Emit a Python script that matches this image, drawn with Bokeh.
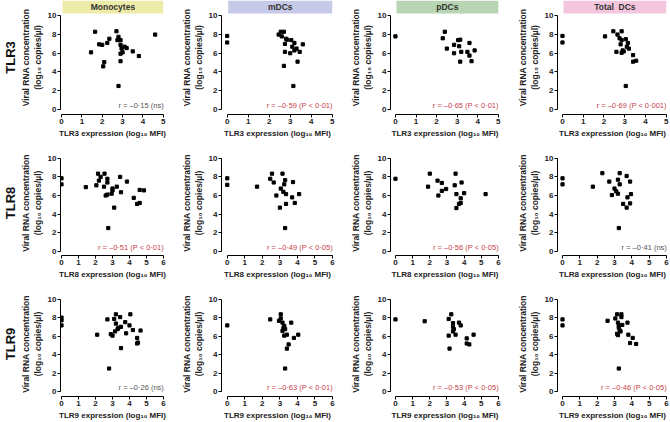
from bokeh.plotting import figure
from bokeh.layouts import column, row
from bokeh.models import FixedTicker, Title, Range1d
from bokeh.core.properties import value
from bokeh.embed import file_html
from bokeh.resources import INLINE

# ---------------- data ----------------
cell_types = ["Monocytes", "mDCs", "pDCs", "Total\u00a0 DCs"]
header_colors = ["#eeeaa8", "#c6c9e7", "#b7d5b2", "#f3c6de"]
receptors = ["TLR3", "TLR8", "TLR9"]
x_max = [5, 6, 6]

tlr3_mono_x = [1.65, 2.7, 4.6, 2.8, 2.35, 2.75, 2.9, 1.85, 2.0, 2.25, 2.9, 3.1, 3.2, 2.95, 3.5, 1.45, 3.0, 2.9, 3.8, 2.9, 2.1, 2.05, 2.8]
tlr3_mono_y = [8.3, 8.35, 8.0, 7.75, 7.55, 7.4, 7.4, 6.95, 6.9, 7.1, 6.9, 6.7, 6.55, 6.5, 6.2, 6.1, 6.1, 5.95, 5.7, 5.15, 5.05, 4.6, 2.5]
tlr3_mdc_x = [0, 0, 2.45, 2.55, 2.7, 2.6, 2.8, 2.85, 3.05, 2.75, 3.2, 3.6, 3.1, 3.3, 3.2, 2.75, 3.0, 3.45, 3.35, 2.7, 3.15]
tlr3_mdc_y = [7.85, 7.15, 8.0, 8.3, 8.3, 7.8, 7.55, 7.45, 7.4, 7.0, 7.1, 6.95, 6.7, 6.5, 6.3, 6.15, 6.0, 6.15, 5.1, 4.65, 2.5]
tlr3_pdc_x = [0, 2.4, 2.3, 2.5, 2.85, 2.85, 3.05, 3.15, 3.1, 3.2, 3.15, 3.5, 3.6, 3.6, 3.7, 3.85]
tlr3_pdc_y = [7.8, 8.3, 7.6, 6.5, 6.9, 6.0, 7.4, 7.45, 6.75, 6.15, 5.1, 6.15, 7.1, 5.75, 5.15, 6.3]
tlr3_tdc_x = [0, 0, 2.05, 2.45, 2.85, 2.65, 2.75, 2.85, 3.05, 3.15, 2.8, 3.1, 3.2, 2.9, 2.95, 2.85, 2.6, 3.4, 3.4, 3.55, 3.05]
tlr3_tdc_y = [7.85, 7.15, 7.8, 8.35, 8.35, 8.0, 7.6, 7.4, 7.5, 7.1, 6.95, 6.7, 6.5, 6.3, 6.2, 6.05, 6.15, 5.8, 5.1, 5.2, 2.5]

tlr8_mono_x = [0, 0, 1.43, 2.15, 2.53, 2.3, 2.2, 2.05, 2.7, 2.7, 2.5, 3.45, 3.85, 3.25, 3.0, 3.0, 2.7, 2.6, 2.95, 3.5, 3.1, 2.75, 4.25, 4.6, 4.85, 4.45, 4.6]
tlr8_mono_y = [7.85, 7.2, 6.9, 8.35, 8.35, 8.0, 7.6, 7.1, 7.8, 7.4, 6.95, 8.0, 7.5, 6.95, 6.75, 6.55, 6.1, 6.0, 6.2, 6.35, 4.7, 2.5, 5.75, 6.6, 6.55, 5.1, 5.2]
tlr8_mdc_x = [0, 0, 1.7, 2.55, 2.45, 2.65, 3.15, 3.3, 3.25, 3.05, 3.2, 3.35, 2.8, 3.75, 3.7, 4.1, 3.85, 3.35, 3.0, 3.3]
tlr8_mdc_y = [7.85, 7.15, 6.95, 8.35, 7.8, 7.4, 8.35, 7.65, 7.2, 6.75, 6.4, 6.15, 6.0, 7.45, 5.8, 6.15, 5.2, 5.1, 4.7, 2.5]
tlr8_pdc_x = [0, 2.0, 1.9, 2.45, 2.7, 2.7, 2.95, 2.5, 3.5, 3.45, 3.85, 3.55, 4.0, 3.8, 3.7, 3.8, 3.55, 5.25]
tlr8_pdc_y = [7.8, 8.35, 6.95, 7.6, 7.35, 6.5, 6.7, 6.0, 8.35, 7.1, 7.4, 6.15, 6.25, 5.7, 5.1, 5.2, 4.65, 6.15]
tlr8_tdc_x = [0, 0, 1.75, 2.3, 2.7, 3.3, 3.2, 3.3, 3.0, 3.1, 3.2, 2.85, 3.7, 3.9, 3.75, 3.95, 3.9, 3.5, 3.7, 3.25]
tlr8_tdc_y = [7.85, 7.2, 6.95, 8.4, 7.5, 8.4, 7.7, 7.2, 6.75, 6.45, 6.2, 6.05, 8.1, 7.5, 5.8, 6.15, 5.15, 5.1, 4.7, 2.5]

tlr9_mono_x = [0, 0, 0, 2.1, 2.7, 3.2, 3.1, 3.2, 3.45, 4.05, 3.75, 4.0, 3.35, 3.3, 3.5, 3.15, 2.9, 3.0, 3.8, 4.2, 4.65, 4.45, 4.45, 4.5, 3.5, 2.8]
tlr9_mono_y = [8.0, 7.7, 7.15, 6.15, 7.8, 8.35, 7.85, 7.35, 8.05, 8.35, 7.5, 7.15, 6.9, 6.75, 7.0, 6.5, 6.2, 6.05, 6.3, 6.65, 6.6, 5.8, 5.2, 5.3, 4.7, 2.5]
tlr9_mdc_x = [0, 2.45, 2.95, 3.05, 3.05, 3.15, 3.25, 3.2, 3.3, 3.15, 3.25, 3.4, 3.65, 3.8, 4.05, 3.5, 3.4, 3.3]
tlr9_mdc_y = [7.15, 7.8, 7.65, 8.35, 7.9, 7.45, 7.1, 6.85, 6.75, 6.55, 6.05, 6.15, 7.45, 5.8, 6.15, 5.1, 4.65, 2.5]
tlr9_pdc_x = [0, 1.7, 3.1, 3.25, 3.35, 3.35, 3.4, 3.35, 3.1, 3.5, 3.15, 3.7, 3.8, 4.15, 4.55, 4.15, 4.3]
tlr9_pdc_y = [7.8, 7.6, 7.85, 8.35, 7.4, 7.0, 6.75, 6.5, 6.05, 6.15, 4.65, 7.45, 7.15, 5.75, 6.15, 5.2, 5.1]
tlr9_tdc_x = [0, 0, 2.6, 3.15, 3.4, 3.05, 3.4, 3.2, 3.25, 3.45, 3.25, 3.3, 3.35, 3.15, 3.2, 3.75, 3.8, 4.05, 3.9, 4.25, 3.25]
tlr9_tdc_y = [7.8, 7.15, 7.65, 8.35, 8.35, 7.9, 8.05, 7.45, 7.1, 7.2, 6.9, 6.6, 6.5, 6.25, 6.1, 7.45, 6.15, 5.8, 5.25, 5.15, 2.5]

r_labels = [
    ["r = \u20130\u00b715 (ns)", "r = \u20130\u00b759 (P < 0\u00b701)", "r = \u20130\u00b765 (P < 0\u00b701)", "r = \u20130\u00b769 (P < 0\u00b7001)"],
    ["r = \u20130\u00b751 (P < 0\u00b701)", "r = \u20130\u00b749 (P < 0\u00b705)", "r = \u20130\u00b756 (P < 0\u00b705)", "r = \u20130\u00b741 (ns)"],
    ["r = \u20130\u00b726 (ns)", "r = \u20130\u00b763 (P < 0\u00b701)", "r = \u20130\u00b753 (P < 0\u00b705)", "r = \u20130\u00b746 (P < 0\u00b705)"],
]
significant = [
    [False, True, True, True],
    [True, True, True, False],
    [False, True, True, True],
]

panels = [
    [(tlr3_mono_x, tlr3_mono_y), (tlr3_mdc_x, tlr3_mdc_y), (tlr3_pdc_x, tlr3_pdc_y), (tlr3_tdc_x, tlr3_tdc_y)],
    [(tlr8_mono_x, tlr8_mono_y), (tlr8_mdc_x, tlr8_mdc_y), (tlr8_pdc_x, tlr8_pdc_y), (tlr8_tdc_x, tlr8_tdc_y)],
    [(tlr9_mono_x, tlr9_mono_y), (tlr9_mdc_x, tlr9_mdc_y), (tlr9_pdc_x, tlr9_pdc_y), (tlr9_tdc_x, tlr9_tdc_y)],
]

# ---------------- layout / style ----------------
FONT = "Liberation Sans"
col_width = [166, 169, 166, 169]
col_border_left = [57, 55, 55, 56]
col_border_right = [2, 2, 2, 3]
row_height = [140, 141, 141]
row_border_top = [0, 10, 10]
row_border_bottom = [23, 24, 23]
x_pad_left = [[0.05, 0.27, 0.24, 0.24], [0.06, 0.33, 0.29, 0.29], [0.06, 0.33, 0.29, 0.29]]
x_pad_right = 0.06
y_limits = [(-0.55, 11.64), (-0.45, 10.84), (-0.52, 10.81)]
header_span = (0.05, 5.0, 10.25, 11.64)


def make_panel(r, c):
    xmax = x_max[r]
    p = figure(width=col_width[c], height=row_height[r], title=None,
               output_backend="svg", toolbar_location=None, tools="",
               x_range=Range1d(-x_pad_left[r][c], xmax + x_pad_right),
               y_range=Range1d(*y_limits[r]),
               min_border_left=col_border_left[c], min_border_right=col_border_right[c],
               min_border_top=row_border_top[r], min_border_bottom=row_border_bottom[r])
    p.outline_line_color = None
    p.grid.visible = False
    p.background_fill_color = "white"
    p.border_fill_color = "white"
    p.xaxis.bounds = (0, xmax)
    p.yaxis.bounds = (0, 10)
    p.xaxis.ticker = FixedTicker(ticks=list(range(xmax + 1)))
    p.yaxis.ticker = FixedTicker(ticks=[0, 2, 4, 6, 8, 10])
    for ax in (p.xaxis[0], p.yaxis[0]):
        ax.minor_tick_line_color = None
        ax.major_tick_in = 0
        ax.major_tick_out = 3
        ax.axis_line_color = "black"
        ax.major_tick_line_color = "black"
        ax.major_label_text_font = FONT
        ax.major_label_text_font_size = "8px"
        ax.major_label_text_font_style = "bold"
        ax.major_label_text_color = "#222222"
        ax.axis_label_text_font = FONT
        ax.axis_label_text_font_style = "bold"
        ax.axis_label_text_color = "#222222"
        ax.major_label_standoff = 1
        ax.axis_label_standoff = 2
    p.xaxis.axis_label_text_font_size = "8px"
    p.yaxis.axis_label_text_font_size = "8.5px"
    p.xaxis.axis_label = f"{receptors[r]} expression (log\u2081\u2080 MFI)"
    p.yaxis.axis_label = "Viral RNA concentration\n(log\u2081\u2080 copies/\u00b5l)"

    if r == 0:
        l, rt, b, t = header_span
        p.quad(left=[l], right=[rt], bottom=[b], top=[t],
               fill_color=header_colors[c], line_color=None)
        p.text(x=[(l + rt) / 2], y=[(b + t) / 2], text=[cell_types[c]],
               text_align="center", text_baseline="middle",
               text_font=value(FONT), text_font_size="8.5px",
               text_font_style="bold", text_color="#333333")

    xs, ys = panels[r][c]
    p.scatter(xs, ys, marker="square", size=3.2, color="black")

    p.text(x=[xmax + 0.02], y=[0.45], text=[r_labels[r][c]],
           text_align="right", text_baseline="middle",
           text_font=value(FONT), text_font_size="7.5px",
           text_color="#c8414b" if significant[r][c] else "#555555")

    if c == 0:
        p.add_layout(Title(text=receptors[r], align="center", text_font=FONT,
                           text_font_size="13px", text_font_style="bold",
                           text_color="#111111", standoff=0), "left")
    return p


rows = [row(*[make_panel(r, c) for c in range(4)]) for r in range(3)]
layout = column(*rows)

open("out.html", "w").write(file_html(layout, INLINE))
